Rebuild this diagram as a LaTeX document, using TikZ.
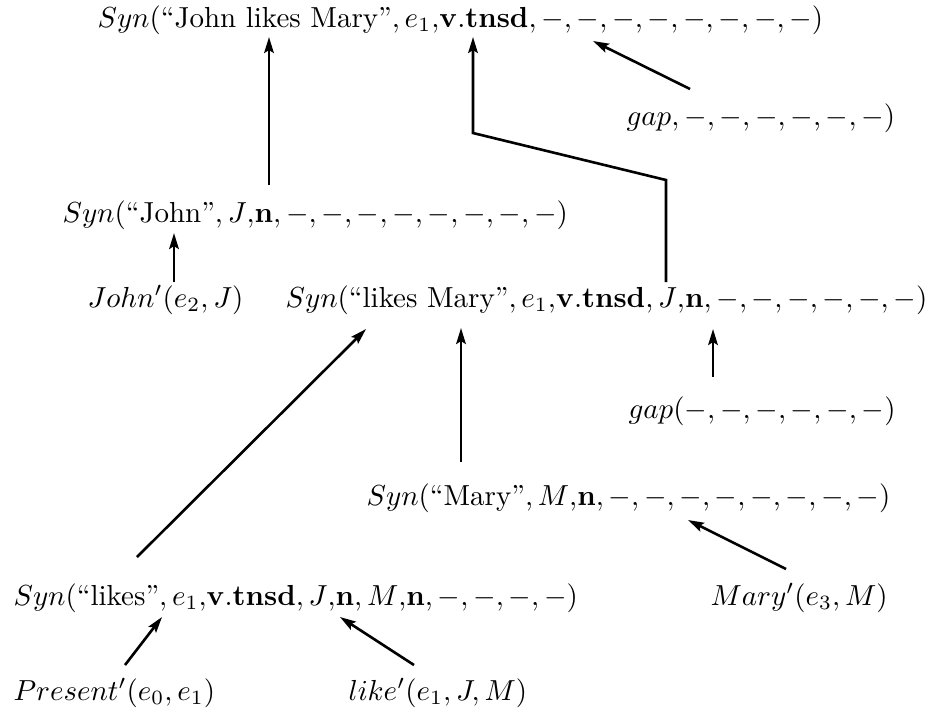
\documentclass[tikz,border=0pt]{standalone}
\usepackage{amsmath,amssymb}
\usepackage{tikz}
\usetikzlibrary{arrows.meta,calc}
\newcommand{\quot}[1]{\text{``#1''}}
\tikzset{
  term/.style={inner sep=0pt,anchor=base west},
  link/.style={-{Stealth[length=5.5pt,width=3.3pt,inset=1pt]},line width=0.9pt}
}
\begin{document}
\begin{tikzpicture}[x=0.345pt,y=-0.345pt]
  \useasboundingbox (0,0) rectangle (941,710);
  % derivation, root at the top
  \node[term] (top) at (97,27) {$Syn(\quot{John likes Mary},e_1{,}\mathbf{v.tnsd},-,-,-,-,-,-,-,-)$};
  \node[term] (gapA) at (626,125) {$gap,-,-,-,-,-,-)$};
  \node[term] (synJohn) at (62,222) {$Syn(\quot{John},J{,}\mathbf{n},-,-,-,-,-,-,-,-)$};
  \node[term] (john) at (87,307) {$John'(e_2,J)$};
  \node[term] (synLM) at (285,307) {$Syn(\quot{likes Mary},e_1{,}\mathbf{v.tnsd},J{,}\mathbf{n},-,-,-,-,-,-)$};
  \node[term] (gapB) at (628,418) {$gap(-,-,-,-,-,-)$};
  \node[term] (synMary) at (366,505) {$Syn(\quot{Mary},M{,}\mathbf{n},-,-,-,-,-,-,-,-)$};
  \node[term] (synLikes) at (13,605) {$Syn(\quot{likes},e_1{,}\mathbf{v.tnsd},J{,}\mathbf{n},M{,}\mathbf{n},-,-,-,-)$};
  \node[term] (mary) at (710,605) {$Mary'(e_3,M)$};
  \node[term] (present) at (13,700) {$Present'(e_0,e_1)$};
  \node[term] (like) at (348,700) {$like'(e_1,J,M)$};

  % arrows point from daughter to mother
  \draw[link] ($(synJohn.base west)+(207,-37)$) -- ($(top.base west)+(172,10)$);
  \draw[link] ($(synLM.base west)+(381,-25)$) -- ++(0,-102)
    -- ($(top.base west)+(376,106)$) -- ($(top.base west)+(376,10)$);
  \draw[link] ($(gapA.base west)+(64,-36)$) -- ($(top.base west)+(496,14)$);
  \draw[link] ($(john.base west)+(87,-25)$) -- ($(synJohn.base west)+(112,11)$);
  \draw[link] ($(synLikes.base west)+(124,-48)$) -- ($(synLM.base west)+(81,22)$);
  \draw[link] ($(synMary.base west)+(95,-43)$) -- ($(synLM.base west)+(176,21)$);
  \draw[link] ($(gapB.base west)+(85,-41)$) -- ($(synLM.base west)+(428,22)$);
  \draw[link] ($(mary.base west)+(76,-36)$) -- ($(synMary.base west)+(322,15)$);
  \draw[link] ($(present.base west)+(112,-35)$) -- ($(synLikes.base west)+(149,12)$);
  \draw[link] ($(like.base west)+(66,-35)$) -- ($(synLikes.base west)+(327,12)$);
\end{tikzpicture}
\end{document}
